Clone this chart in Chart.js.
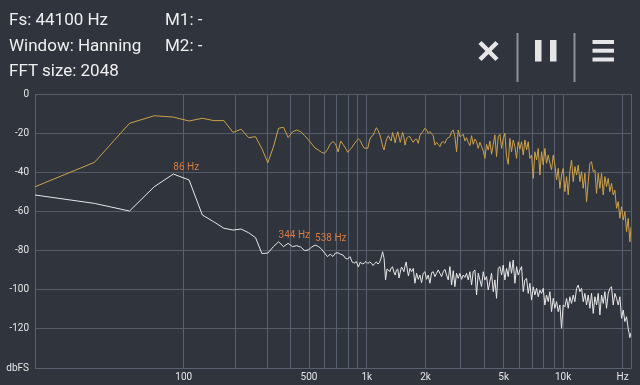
<!DOCTYPE html>
<html><head><meta charset="utf-8">
<script src="https://cdn.jsdelivr.net/npm/chart.js@4"></script>
<style>
html,body{margin:0;padding:0;background:#2f343d;width:640px;height:385px;overflow:hidden;}
#wrap{position:relative;width:640px;height:385px;}
canvas{position:absolute;left:0;top:0;}
.hd{position:absolute;font-family:Roboto,sans-serif;font-size:17px;line-height:20px;color:#f0f0f0;white-space:nowrap;}
svg{position:absolute;left:0;top:0;}
</style></head><body>
<div id="wrap">
<canvas id="c" width="640" height="385"></canvas>
<div class="hd" style="left:9px;top:9px">Fs: 44100 Hz</div>
<div class="hd" style="left:9px;top:35px">Window: Hanning</div>
<div class="hd" style="left:9px;top:60px">FFT size: 2048</div>
<div class="hd" style="left:165px;top:9px">M1: -</div>
<div class="hd" style="left:165px;top:35px">M2: -</div>
<svg width="640" height="90">
  <g stroke="#e6e6e6" stroke-width="4.5" fill="none">
    <line x1="480" y1="42.5" x2="497" y2="59.5"/>
    <line x1="497" y1="42.5" x2="480" y2="59.5"/>
  </g>
  <rect x="516.5" y="33" width="2" height="49" fill="#8c9098"/>
  <rect x="573.5" y="33" width="2" height="49" fill="#8c9098"/>
  <rect x="535" y="40" width="6.5" height="21.5" fill="#e6e6e6"/>
  <rect x="550" y="40" width="6.5" height="21.5" fill="#e6e6e6"/>
  <rect x="592.5" y="40" width="21.5" height="4" fill="#e6e6e6"/>
  <rect x="592.5" y="48.7" width="21.5" height="4" fill="#e6e6e6"/>
  <rect x="592.5" y="57.5" width="21.5" height="4" fill="#e6e6e6"/>
</svg>
</div>
<script>
const BIN = 44100 / 2048;
const toX = f => Math.log10(f / BIN + 1);

const FREQS = [
  0, 21.5, 43.1, 64.6, 86.1, 107.7, 129.2, 150.7, 172.3, 193.8, 215.3, 236.9, 258.4, 279.9, 301.5, 323.0,
  344.5, 366.1, 387.6, 409.1, 430.7, 452.2, 473.7, 495.3, 516.8, 538.3, 559.9, 581.4, 602.9, 624.5, 646.0,
  667.5, 689.1, 710.6, 732.1, 753.7, 775.2, 796.7, 818.3, 839.8, 861.3, 882.9, 904.4, 925.9, 947.5, 969.0,
  990.5, 1012.1, 1033.6, 1055.1, 1076.7, 1098.2, 1119.7, 1141.3, 1162.8, 1184.3, 1205.9, 1227.4, 1248.9,
  1270.5, 1292.0, 1313.5, 1335.1, 1356.6, 1378.1, 1399.7, 1421.2, 1442.7, 1464.3, 1485.8, 1507.3, 1528.9,
  1550.4, 1571.9, 1593.5, 1615.0, 1636.5,
  1665, 1698, 1732, 1766, 1801, 1837,
  1873, 1910, 1948, 1986, 2026, 2066,
  2107, 2148, 2191, 2234, 2278, 2323,
  2369, 2416, 2464, 2512, 2562, 2612,
  2664, 2717, 2770, 2825, 2880, 2937,
  2995, 3054, 3114, 3176, 3238, 3302,
  3367, 3434, 3501, 3570, 3640, 3712,
  3785, 3860, 3936, 4013, 4092, 4172,
  4255, 4338, 4424, 4511, 4599, 4690,
  4782, 4876, 4972, 5070, 5169, 5271,
  5375, 5480, 5588, 5698, 5810, 5924,
  6040, 6159, 6280, 6403, 6529, 6657,
  6788, 6921, 7057, 7195, 7336, 7480,
  7628, 7777, 7930, 8085, 8244, 8406,
  8571, 8739, 8911, 9085, 9264, 9445,
  9631, 9820, 10012, 10208, 10409, 10613,
  10822, 11033, 11250, 11470, 11695, 11924,
  12159, 12397, 12640, 12888, 13140, 13398,
  13661, 13929, 14202, 14480, 14764, 15053,
  15349, 15649, 15956, 16268, 16587, 16912,
  17244, 17582, 17926, 18278, 18636, 19001,
  19374, 19754, 20140, 20535, 20937, 21347,
  21763, 22050
];

const ORANGE_DB = [
  -47.4, -34.9, -15.0, -11.1, -11.8, -13.8, -12.4, -13.6, -13.6, -19.6, -18.0, -22.3, -21.8, -27.9, -35.1, -27.1,
  -17.5, -17.0, -22.3, -19.3, -18.4, -19.3, -21.2, -23.3, -25.5, -27.6, -28.6, -29.8, -30.3, -28.4, -25.5,
  -24.3, -25.5, -29.6, -24.0, -25.8, -27.6, -29.8, -28.4, -27.1, -25.5, -24.0, -23.0, -23.8, -26.1, -27.6,
  -27.7, -27.7, -23.5, -21.7, -21.2, -19.2, -17.2, -18.6, -20.4, -23.0, -26.6, -28.6, -25.0,
  -22.5, -21.3, -23.0, -24.0, -19.6, -22.0, -25.0, -21.5, -19.3, -22.0, -24.7, -22.0, -19.6,
  -22.0, -26.1, -23.5, -22.2, -21.8,
  -21.8, -23.5, -24.7, -23.3, -23.0, -25.2,
  -21.3, -19.9, -18.9, -17.5, -18.4, -20.1,
  -19.2, -20.3, -21.3, -26.1, -24.7, -25.7,
  -26.9, -24.7, -24.4, -25.2, -23.0, -22.3,
  -21.8, -19.2, -18.4, -21.8, -29.5, -18.4,
  -21.8, -21.3, -20.6, -24.0, -22.3, -24.7,
  -26.4, -21.3, -25.7, -23.0, -24.4, -27.8,
  -24.7, -26.9, -29.1, -32.9, -25.7, -28.6,
  -24.0, -30.8, -25.7, -20.9, -32.0, -21.8,
  -20.6, -27.8, -22.7, -20.1, -32.0, -35.9,
  -22.7, -29.5, -23.5, -26.9, -32.9, -24.4,
  -28.2, -24.4, -31.2, -23.5, -28.6, -24.4,
  -32.9, -31.2, -43.1, -29.5, -33.7, -27.8,
  -41.4, -29.5, -36.3, -27.8, -35.4, -31.2,
  -35.4, -38.8, -31.2, -36.3, -43.9, -38.0,
  -48.2, -41.4, -38.0, -49.9, -42.2, -51.6,
  -39.7, -33.7, -44.8, -37.1, -41.4, -36.3,
  -44.8, -39.7, -48.2, -40.5, -55.0, -44.8,
  -35.4, -34.6, -39.7, -38.8, -50.8, -40.5,
  -48.2, -40.5, -51.6, -42.2, -47.3, -43.1,
  -49.9, -45.6, -51.6, -49.1, -58.4, -55.0,
  -63.5, -57.6, -64.4, -60.1, -70.3, -63.5,
  -75.5, -68.0
];

const WHITE_DB = [
  -51.6, -55.9, -59.8, -47.4, -40.9, -43.9, -61.8, -65.3, -68.6, -69.5, -69.0, -70.9, -73.4, -81.5, -81.3, -78.0,
  -75.5, -78.0, -76.3, -78.0, -77.5, -78.2, -80.0, -79.7, -78.2, -77.2, -77.9, -79.2, -81.2, -83.1, -81.9,
  -83.0, -81.2, -81.2, -81.9, -82.3, -84.0, -84.3, -83.1, -85.8, -86.4, -85.6, -88.4, -85.8, -86.9, -86.4,
  -85.6, -86.6, -85.8, -86.4, -87.6, -86.6, -85.8, -86.9, -86.1, -83.8, -80.6, -84.0, -95.0,
  -89.4, -89.9, -90.8, -88.9, -88.3, -91.0, -92.5, -89.9, -89.4, -94.0, -91.0, -88.4, -89.4,
  -90.8, -87.9, -85.8, -89.9, -93.0,
  -89.1, -90.8, -89.1, -96.7, -91.6, -94.7,
  -92.5, -96.4, -91.6, -90.8, -94.7, -92.5,
  -96.7, -91.3, -90.8, -93.3, -91.6, -89.9,
  -91.6, -93.3, -90.8, -89.6, -92.5, -95.0,
  -88.2, -97.6, -90.3, -98.4, -91.6, -94.2,
  -91.6, -94.7, -92.5, -93.7, -91.6, -95.0,
  -90.8, -97.6, -90.8, -89.9, -102.7, -91.6,
  -95.0, -98.4, -90.8, -95.0, -93.3, -100.1,
  -95.9, -91.6, -101.0, -95.0, -104.4, -89.1,
  -88.2, -92.5, -87.4, -95.0, -89.1, -93.3,
  -85.7, -91.6, -84.8, -96.7, -88.2, -92.5,
  -89.9, -88.2, -101.0, -95.0, -94.2, -101.9,
  -96.7, -105.3, -98.5, -102.7, -99.3, -103.6,
  -100.2, -101.9, -99.3, -107.8, -102.7, -106.1,
  -101.0, -111.2, -104.4, -109.5, -106.1, -111.2,
  -107.8, -119.7, -107.8, -108.7, -104.4, -109.5,
  -103.6, -107.0, -102.7, -106.1, -99.3, -97.6,
  -101.0, -99.3, -106.1, -101.9, -107.8, -102.7,
  -109.5, -101.9, -112.1, -103.6, -107.8, -101.9,
  -112.9, -102.7, -107.0, -101.0, -109.5, -101.9,
  -99.3, -98.5, -107.8, -101.9, -104.4, -107.8,
  -103.6, -114.6, -110.4, -116.3, -113.8, -119.7,
  -124.5, -122.0
];

const Y_TICKS = [-140, -120, -100, -80, -60, -40, -20, 0];
const Y_LABELS = ['dbFS', '-120', '-100', '-80', '-60', '-40', '-20', '0'];
const GRID_FREQS = [100, 200, 300, 400, 500, 600, 700, 800, 900, 1000, 2000, 3000, 4000, 5000, 6000, 7000, 8000, 9000, 10000, 20000, 22050];
const GRID_LABELS = ['100', '', '', '', '500', '', '', '', '', '1k', '2k', '', '', '5k', '', '', '', '', '10k', 'Hz', ''];
const PEAK_FREQS = [86.1, 344.5, 538.3];
const PEAK_LABELS = ['86 Hz', '344 Hz', '538 Hz'];

const toPoints = vals => FREQS.map((f, i) => ({ x: toX(f), y: vals[i] }));

const peakPlugin = {
  id: 'peaks',
  afterDatasetsDraw(chart) {
    const { ctx, scales: { x, y } } = chart;
    ctx.save();
    ctx.font = '10px Roboto';
    ctx.fillStyle = '#d97a3f';
    ctx.textAlign = 'left';
    ctx.textBaseline = 'middle';
    PEAK_FREQS.forEach((f, i) => {
      const idx = FREQS.indexOf(f);
      const px = x.getPixelForValue(toX(f));
      const py = y.getPixelForValue(WHITE_DB[idx]);
      ctx.fillText(PEAK_LABELS[i], px, py - 6.5);
    });
    ctx.restore();
  }
};

new Chart(document.getElementById('c'), {
  type: 'line',
  data: {
    datasets: [
      { data: toPoints(ORANGE_DB), borderColor: '#cfa24a', borderWidth: 1, pointRadius: 0, tension: 0, fill: false },
      { data: toPoints(WHITE_DB), borderColor: '#e8e8e8', borderWidth: 1, pointRadius: 0, tension: 0, fill: false }
    ]
  },
  options: {
    responsive: false,
    animation: false,
    devicePixelRatio: 1,
    layout: { padding: { left: 0, right: 9, top: 94, bottom: 0 } },
    plugins: { legend: { display: false }, tooltip: { enabled: false } },
    scales: {
      x: {
        type: 'linear',
        min: 0,
        max: toX(22050),
        afterBuildTicks: s => { s.ticks = GRID_FREQS.map(f => ({ value: toX(f) })); },
        afterFit: s => { s.height = 17; },
        ticks: {
          autoSkip: false, maxRotation: 0, padding: 3,
          color: '#e6e6e6', font: { family: 'Roboto', size: 10 },
          callback: (v, i) => GRID_LABELS[i]
        },
        grid: { color: '#596070', lineWidth: 1, drawTicks: false },
        border: { display: true, color: '#596070' }
      },
      y: {
        type: 'linear',
        min: -140,
        max: 0,
        afterBuildTicks: s => { s.ticks = Y_TICKS.map(v => ({ value: v })); },
        afterFit: s => { s.width = 35; },
        ticks: {
          padding: 6,
          color: '#e6e6e6', font: { family: 'Roboto', size: 10 },
          callback: (v, i) => Y_LABELS[i]
        },
        grid: { color: '#555c68', lineWidth: 1, drawTicks: false },
        border: { display: true, color: '#596070' }
      }
    }
  },
  plugins: [peakPlugin]
});
</script>
</body></html>
